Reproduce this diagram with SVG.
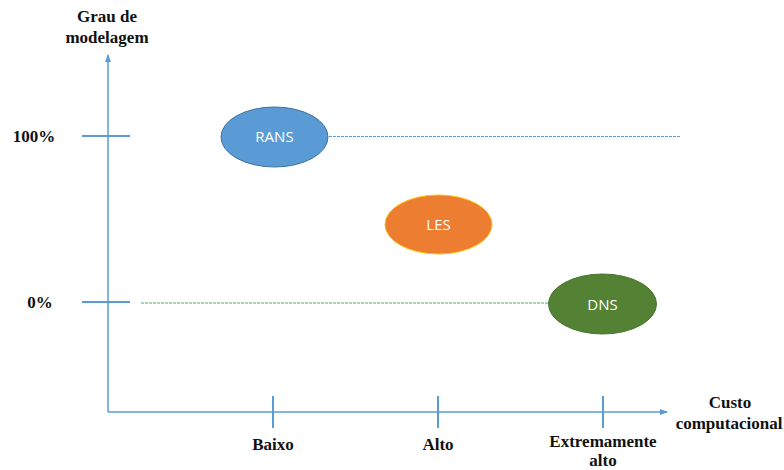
<svg xmlns="http://www.w3.org/2000/svg" width="784" height="470" viewBox="0 0 784 470">
<style>
.lbl{font-family:"Liberation Serif","Times New Roman",serif;font-weight:bold;font-size:17px;fill:#111;text-anchor:middle}
.ax{stroke:#5B9BD5;stroke-width:1.5;fill:none}
.tk{stroke:#5B9BD5;stroke-width:2;fill:none}
.nt{font-family:"Open Sans","Liberation Sans",sans-serif;font-size:15px;fill:#fff;text-anchor:middle}
</style>
<defs>
<marker id="arr" markerWidth="8" markerHeight="8" refX="7" refY="4" orient="auto" markerUnits="userSpaceOnUse">
<path d="M0,1 L8,4 L0,7 Z" fill="#5B9BD5"/>
</marker>
</defs>
<rect width="784" height="470" fill="#fff"/>
<g id="connectors">
<line class="ax" x1="108" y1="412" x2="108" y2="55" marker-end="url(#arr)"/>
<line class="ax" x1="108" y1="412" x2="667" y2="412" marker-end="url(#arr)"/>
<line class="tk" x1="82" y1="136" x2="130" y2="136"/>
<line class="tk" x1="82" y1="302" x2="130" y2="302"/>
<line class="tk" x1="273" y1="396" x2="273" y2="428"/>
<line class="tk" x1="438" y1="396" x2="438" y2="428"/>
<line class="tk" x1="603" y1="396" x2="603" y2="428"/>
<line x1="329" y1="136.5" x2="680" y2="136.5" stroke="#5B9BD5" stroke-width="1" stroke-dasharray="3,1"/>
<line x1="141" y1="303" x2="549" y2="303" stroke="#3FAF6A" stroke-width="1" stroke-dasharray="3,1"/>
</g>
<g id="labels">
<text class="lbl" x="107" y="22">Grau de</text>
<text class="lbl" x="107" y="43">modelagem</text>
<text class="lbl" x="34" y="142">100%</text>
<text class="lbl" x="40" y="308">0%</text>
<text class="lbl" x="273" y="450">Baixo</text>
<text class="lbl" x="438" y="450">Alto</text>
<text class="lbl" x="603" y="447">Extremamente</text>
<text class="lbl" x="603" y="466">alto</text>
<text class="lbl" x="730" y="408">Custo</text>
<text class="lbl" x="729" y="429">computacional</text>
</g>
<g id="RANS">
<ellipse cx="274.5" cy="137" rx="53.5" ry="30" fill="#5B9BD5" stroke="#41719C" stroke-width="1"/>
<text class="nt" x="274.5" y="142">RANS</text>
</g>
<g id="LES">
<ellipse cx="438.5" cy="224.5" rx="53.5" ry="29.5" fill="#ED7D31" stroke="#FFC000" stroke-width="1"/>
<text class="nt" x="438.5" y="230">LES</text>
</g>
<g id="DNS">
<ellipse cx="602.5" cy="304" rx="54" ry="30" fill="#548235" stroke="#4A7530" stroke-width="1"/>
<text class="nt" x="602.5" y="309.5">DNS</text>
</g>
</svg>
